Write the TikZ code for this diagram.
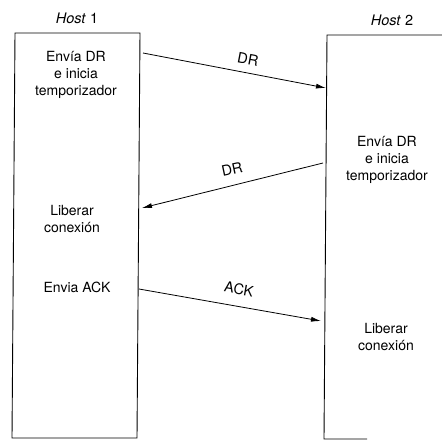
\documentclass[tikz,border=0pt]{standalone}
\usepackage{fontspec}
\setmainfont{TeX Gyre Heros}
\usetikzlibrary{arrows.meta}
\begin{document}
\begin{tikzpicture}[x=1pt,y=-1pt,
  txt/.style={font=\fontsize{14}{16.7}\selectfont, align=center, inner sep=0pt},
  lbl/.style={font=\fontsize{14.5}{16}\selectfont, inner sep=0pt},
  msg/.style={line width=0.8pt, -{Latex[length=10pt,width=5pt]}},
  edge/.style={line width=0.9pt}]
\useasboundingbox (0,0) rectangle (442,441);
% Host 1 box
\coordinate (h1tl) at (15,33);
\coordinate (h1tr) at (140,33);
\coordinate (h1br) at (137,438);
\coordinate (h1bl) at (12,438);
\draw[edge] (h1tl) -- (h1tr) -- (h1br) -- (h1bl) -- cycle;
% Host 2 outline
\coordinate (h2tr) at (442,35);
\coordinate (h2tl) at (327,35);
\coordinate (h2bl) at (324,439);
\coordinate (h2br) at (367,439);
\draw[edge] (h2tr) -- (h2tl) -- (h2bl) -- (h2br);
% titles
\node[lbl] (t1) at (77,18) {\textit{Host} 1};
\node[lbl] (t2) at (392,20) {\textit{Host} 2};
% texts host 1
\node[txt] (a1) at (76,75) {Envía DR\\e inicia\\temporizador};
\node[txt] (a2) at (72,219) {Liberar\\conexión};
\node[txt] (a3) at (77,287) {Envia ACK};
% texts host 2
\node[txt] (b1) at (387,160) {Envía DR\\e inicia\\temporizador};
\node[txt] (b2) at (386,337) {Liberar\\conexión};
% arrow ends
\coordinate (s1) at (143,53);
\coordinate (e1) at (326,88);
\coordinate (s2) at (323,163);
\coordinate (e2) at (142,208);
\coordinate (s3) at (139,289);
\coordinate (e3) at (321,321);
\draw[msg] (s1) -- (e1);
\draw[msg] (s2) -- (e2);
\draw[msg] (s3) -- (e3);
% message labels
\node[lbl, rotate=-10.8] (m1) at (248,59) {DR};
\node[lbl, rotate=12] (m2) at (232,169) {DR};
\node[lbl, rotate=-9.9] (m3) at (239,289) {ACK};
\end{tikzpicture}
\end{document}
